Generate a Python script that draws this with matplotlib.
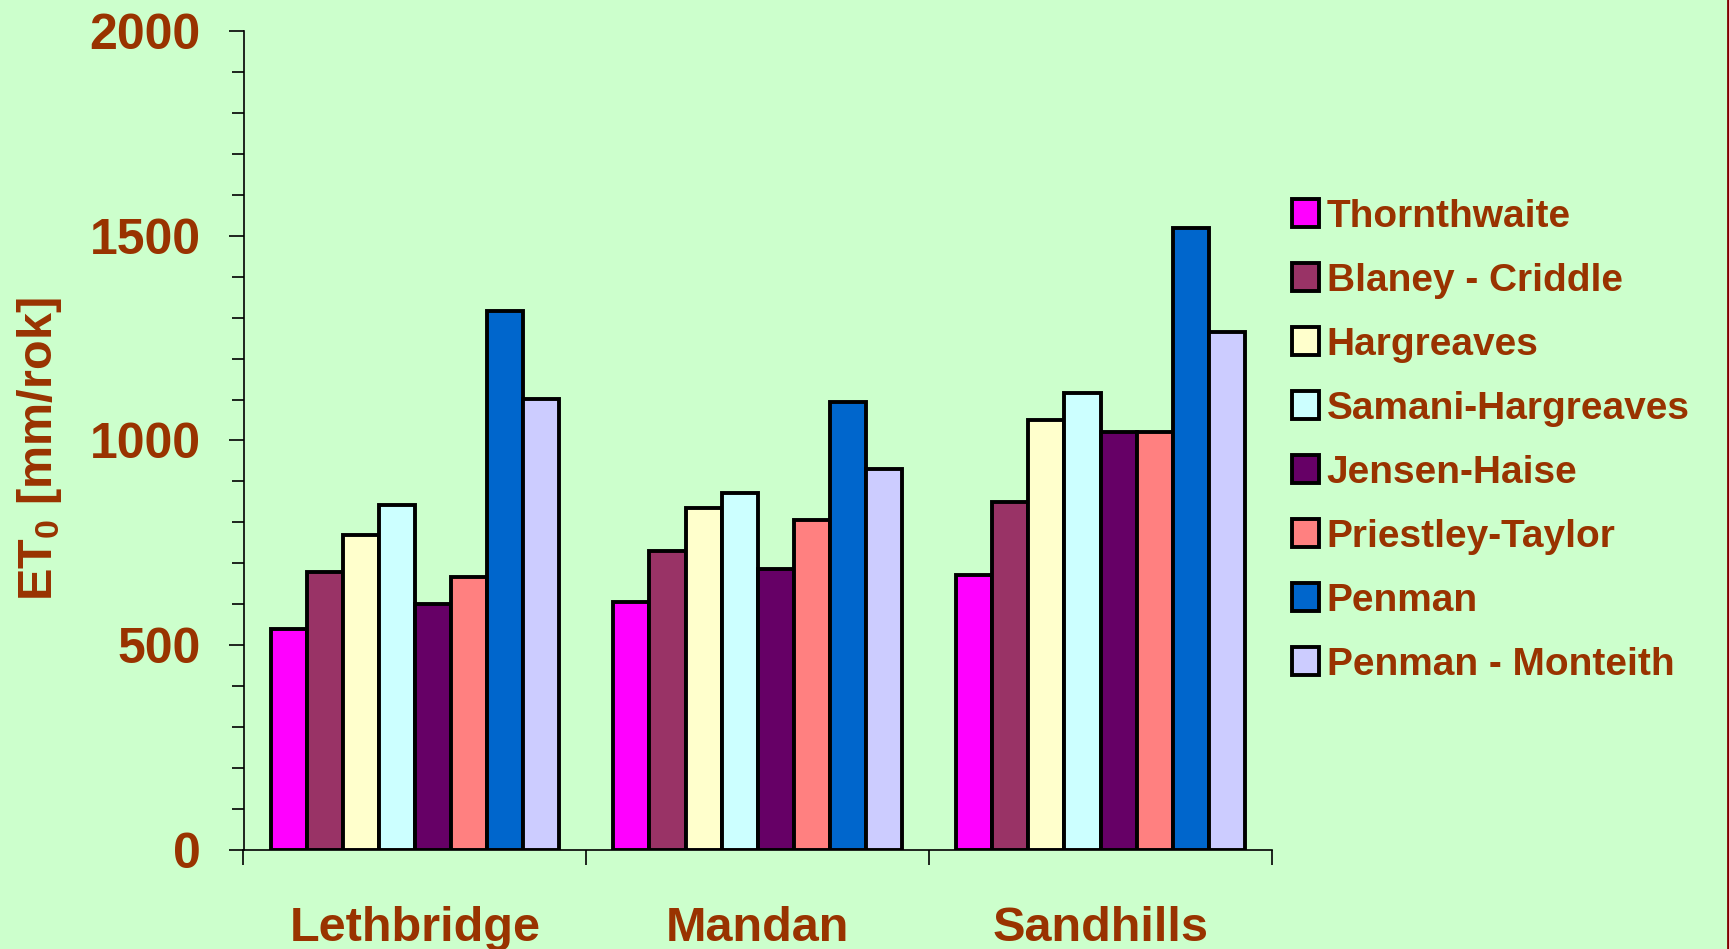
import matplotlib
matplotlib.use('Agg')
import matplotlib.pyplot as plt
import numpy as np

plt.rcParams['font.family'] = ['Liberation Sans', 'DejaVu Sans']
plt.rcParams['font.weight'] = 'bold'
plt.rcParams['mathtext.default'] = 'regular'

stations = ['Lethbridge', 'Mandan', 'Sandhills']
methods = ['Thornthwaite', 'Blaney - Criddle', 'Hargreaves', 'Samani-Hargreaves',
           'Jensen-Haise', 'Priestley-Taylor', 'Penman', 'Penman - Monteith']
colors = ['#FF00FF', '#993366', '#FFFFCC', '#CCFFFF',
          '#660066', '#FF8080', '#0066CC', '#CCCCFF']

# ET0 [mm/rok] per station, one list per method
thornthwaite = [540, 606, 672]
blaney = [680, 731, 851]
hargreaves = [770, 834, 1051]
samani = [842, 873, 1117]
jensen = [600, 686, 1020]
priestley = [666, 806, 1020]
penman = [1317, 1094, 1518]
penman_monteith = [1102, 931, 1265]
values = [thornthwaite, blaney, hargreaves, samani, jensen, priestley, penman, penman_monteith]

text_col = '#993300'
bg = '#CCFFCC'

fig = plt.figure(figsize=(17.29, 9.49), dpi=100, facecolor=bg)
ax = fig.add_axes([243.5 / 1729, 1 - 850 / 949, (1272 - 243.5) / 1729, (850 - 31) / 949])
ax.set_facecolor(bg)

x = np.arange(len(stations))
w = 1 / 9.5
bars = []
for i, (m, vals) in enumerate(zip(methods, values)):
    b = ax.bar(x + (i - 3.5) * w, vals, w, color=colors[i], edgecolor='black',
               linewidth=2.8, label=m, zorder=3)
    bars.append(b)

ax.set_xlim(-0.5, 2.5)
ax.set_ylim(0, 2000)

for s in ['top', 'right']:
    ax.spines[s].set_visible(False)
for s in ['left', 'bottom']:
    ax.spines[s].set_linewidth(1.2)

ax.set_yticks(np.arange(0, 2001, 500))
ax.set_yticks(np.arange(0, 2001, 100), minor=True)
ax.tick_params(axis='y', which='major', length=11, width=1.2, pad=20,
               labelsize=36, labelcolor=text_col)
ax.tick_params(axis='y', which='minor', length=8.5, width=1.2)

ax.set_xticks([-0.5, 0.5, 1.5, 2.5])
ax.set_xticklabels([])
ax.set_xticks(x, minor=True)
ax.set_xticklabels(stations, minor=True)
ax.tick_params(axis='x', which='major', length=11, width=1.2)
ax.tick_params(axis='x', which='minor', length=0, pad=40,
               labelsize=35, labelcolor=text_col)

fig.text(40 / 1729, 1 - 449 / 949, 'ET$_0$ [mm/rok]', rotation=90,
         ha='center', va='center', fontsize=35, color=text_col)

leg = fig.legend(handles=bars, labels=methods, loc='upper left',
                 bbox_to_anchor=(1276 / 1729, 1 - 183 / 949),
                 frameon=False, fontsize=28, handlelength=0.7, handleheight=0.7,
                 handletextpad=0.2, labelspacing=0.72, borderaxespad=0)
for t in leg.get_texts():
    t.set_color(text_col)

# dark red border line on the right edge
fig.add_artist(plt.Line2D([1727.5 / 1729, 1727.5 / 1729], [0, 1],
                          transform=fig.transFigure, color='#800000', linewidth=2))

fig.savefig('out.png', dpi=100, facecolor=bg)
